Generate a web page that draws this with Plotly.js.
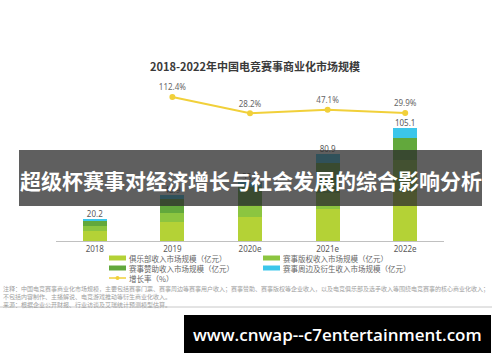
<!DOCTYPE html>
<html>
<head>
<meta charset="utf-8">
<script src="https://cdn.plot.ly/plotly-3.0.1.min.js"></script>
<style>html,body{margin:0;padding:0;background:#fff;}#chart{width:500px;height:362px;}</style>
</head>
<body>
<div id="chart"></div>
<script>
// ---- data ----
var years = ['2018', '2019', '2020e', '2021e', '2022e'];
var clubRevenue = [9.5, 17.7, 22.5, 30.0, 45.8];
var rightsRevenue = [4.6, 8.4, 11.0, 15.0, 30.0];
var sponsorRevenue = [4.6, 13.3, 17.0, 28.0, 20.0];
var merchRevenue = [1.5, 3.5, 4.5, 7.9, 9.3];
var totals = [20.2, 42.9, 55.0, 80.9, 105.1];
var growthYears = ['2019', '2020e', '2021e', '2022e'];
var growthRate = [112.4, 28.2, 47.1, 29.9];
var seriesNames = ['俱乐部收入市场规模（亿元）', '赛事版权收入市场规模（亿元）', '赛事赞助收入市场规模（亿元）', '赛事周边及衍生收入市场规模（亿元）'];
var growthName = '增长率（%）';
var chartTitle = '2018-2022年中国电竞赛事商业化市场规模';
var notes = [
  '注释：中国电竞赛事商业化市场规模，主要包括赛事门票、赛事周边等赛事用户收入；赛事赞助、赛事版权等企业收入，以及电竞俱乐部及选手收入等围绕电竞赛事的核心商业化收入；',
  '不包括内容制作、主播解说、电竞游戏推动等衍生商业化收入。',
  '来源：根据企业公开财报、行业访谈及艾瑞统计预测模型估算。'
];
var bannerText = '超级杯赛事对经济增长与社会发展的综合影响分析';
var watermarkText = 'www.cnwap--c7entertainment.com';

// ---- styles ----
var colors = ['#b4d236', '#8cc540', '#62a83c', '#3cc6ea'];
var lineColor = '#f1d03a';
var W = 500, H = 362;
var L = 56, R = 444, T = 80, B = 241;
function px(x) { return (x - L) / (R - L); }
function py(y) { return (B - y) / (B - T); }

var seriesValues = [clubRevenue, rightsRevenue, sponsorRevenue, merchRevenue];
var traces = [];
for (var i = 0; i < seriesValues.length; i++) {
  traces.push({
    type: 'bar', x: years, y: seriesValues[i], name: seriesNames[i],
    marker: { color: colors[i], line: { width: 0 } }, width: 0.31,
    showlegend: false, hoverinfo: 'skip'
  });
}
traces.push({
  type: 'scatter', mode: 'text', x: years, y: totals,
  text: totals.map(function (v) { return v.toFixed(1); }),
  textposition: 'top center', textfont: { size: 8, color: '#595959', family: 'Noto Sans, sans-serif' },
  showlegend: false, hoverinfo: 'skip', cliponaxis: false
});
traces.push({
  type: 'scatter', mode: 'lines+markers+text', x: growthYears, y: growthRate, yaxis: 'y2',
  name: growthName,
  text: growthRate.map(function (v) { return v.toFixed(1) + '%'; }),
  textposition: 'top center', textfont: { size: 8, color: '#666666', family: 'Noto Sans, sans-serif' },
  line: { color: lineColor, width: 2 }, marker: { color: lineColor, size: 6 },
  showlegend: false, hoverinfo: 'skip', cliponaxis: false
});

var shapes = [];
var annotations = [];
// legend (custom)
var legPos = [[109, 258], [263, 258], [109, 268], [263, 268]];
for (var j = 0; j < seriesNames.length; j++) {
  var lx = legPos[j][0], ly = legPos[j][1];
  shapes.push({ type: 'rect', xref: 'paper', yref: 'paper', x0: px(lx), x1: px(lx + 17), y0: py(ly - 2.5), y1: py(ly + 2.5), fillcolor: colors[j], line: { width: 0 } });
  annotations.push({ xref: 'paper', yref: 'paper', x: px(lx + 19), y: py(ly), xanchor: 'left', yanchor: 'middle', borderpad: 0, text: seriesNames[j], showarrow: false, font: { size: 7.5, color: '#666666', family: 'Noto Sans CJK SC, sans-serif' } });
}
shapes.push({ type: 'line', xref: 'paper', yref: 'paper', x0: px(109), x1: px(126), y0: py(278), y1: py(278), line: { color: lineColor, width: 1.5 } });
shapes.push({ type: 'circle', xref: 'paper', yref: 'paper', x0: px(115.5), x1: px(119.5), y0: py(276), y1: py(280), fillcolor: lineColor, line: { width: 0 } });
annotations.push({ xref: 'paper', yref: 'paper', x: px(128), y: py(278), xanchor: 'left', yanchor: 'middle', borderpad: 0, text: growthName, showarrow: false, font: { size: 7.5, color: '#666666', family: 'Noto Sans CJK SC, sans-serif' } });

// notes (one block)
annotations.push({ xref: 'paper', yref: 'paper', x: px(2), y: py(296), xanchor: 'left', yanchor: 'middle', align: 'left', borderpad: 0, text: notes.join('<br>'), showarrow: false, font: { size: 6, color: '#a0a0a0', family: 'Noto Sans CJK SC, sans-serif' } });
shapes.push({ type: 'line', xref: 'paper', yref: 'paper', x0: px(0), x1: px(492), y0: py(307), y1: py(307), line: { color: '#c8c8c8', width: 1 } });

// banner overlay
shapes.push({ type: 'rect', layer: 'above', xref: 'paper', yref: 'paper', x0: px(19), x1: px(482), y0: py(206), y1: py(150), fillcolor: 'rgba(45,45,45,0.76)', line: { width: 0 } });
annotations.push({ xref: 'paper', yref: 'paper', x: px(250.5), y: py(180), xanchor: 'center', yanchor: 'middle', text: '<b>' + bannerText + '</b>', showarrow: false, font: { size: 21, color: '#ffffff', family: 'Noto Sans CJK SC, sans-serif' } });

// watermark box
shapes.push({ type: 'rect', layer: 'above', xref: 'paper', yref: 'paper', x0: px(184), x1: px(491), y0: py(353), y1: py(315), fillcolor: '#000000', line: { width: 0 } });
annotations.push({ xref: 'paper', yref: 'paper', x: px(337), y: py(334), xanchor: 'center', yanchor: 'middle', text: watermarkText, showarrow: false, font: { size: 17, color: '#ffffff', family: 'Open Sans, sans-serif', weight: 600 } });

var layout = {
  width: W, height: H,
  margin: { l: L, r: W - R, t: T, b: H - B, pad: 0 },
  paper_bgcolor: '#ffffff', plot_bgcolor: '#ffffff',
  barmode: 'stack',
  showlegend: false,
  title: { text: '<b>' + chartTitle + '</b>', x: 255 / W, xanchor: 'center', y: 1 - 67 / H, yanchor: 'middle', yref: 'container', font: { size: 11, color: '#3a3a3a', family: 'Noto Sans CJK SC, sans-serif' } },
  xaxis: {
    type: 'category', range: [-0.5, 4.5], showgrid: false, zeroline: false,
    showline: true, linecolor: '#c0c0c0', linewidth: 1, ticks: '',
    tickfont: { size: 8, color: '#595959', family: 'Noto Sans, sans-serif' }, fixedrange: true
  },
  yaxis: { range: [0, (B - T) / 1.075], visible: false, showgrid: false, zeroline: false, fixedrange: true },
  yaxis2: { overlaying: 'y', range: [-631, 200.4], visible: false, showgrid: false, zeroline: false, fixedrange: true },
  shapes: shapes,
  annotations: annotations
};

Plotly.newPlot('chart', traces, layout, { staticPlot: true, displayModeBar: false });
</script>
</body>
</html>
